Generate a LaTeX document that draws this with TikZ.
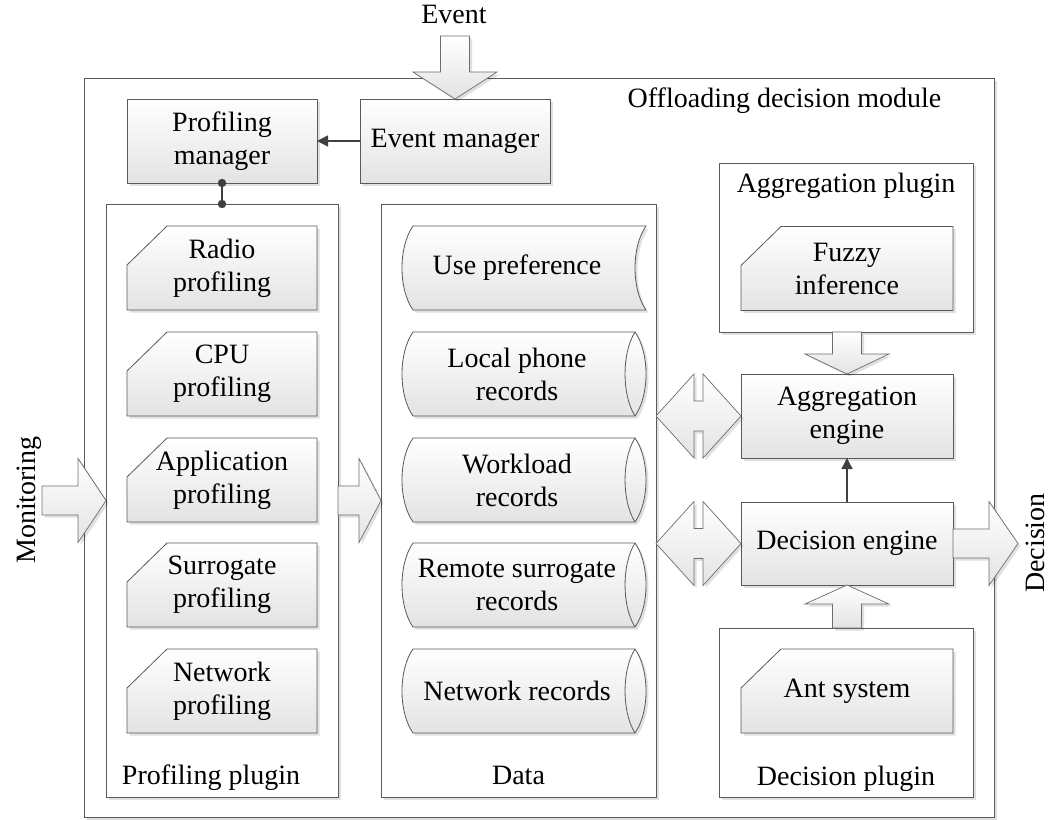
\documentclass[tikz,border=0pt]{standalone}
\usepackage{fontspec}
\setmainfont{Liberation Serif}
\usetikzlibrary{calc,shadows,arrows.meta}
\definecolor{edgegray}{HTML}{5A5A5A}
\definecolor{arrowgray}{HTML}{6E6E6E}
\definecolor{linegray}{HTML}{404040}
\definecolor{shadegray}{HTML}{E3E3E3}
\pgfdeclarelayer{frames}
\pgfdeclarelayer{forms}
\pgfsetlayers{frames,forms,main}

\tikzset{
  txt/.style={font=\fontsize{28}{33}\selectfont, align=center, inner sep=0pt, outer sep=0pt},
  shadowed/.style={drop shadow={shadow xshift=2.5pt, shadow yshift=-2.5pt, fill=black, opacity=0.12}},
  procbox/.style={txt, draw=edgegray, line width=0.8pt, top color=white, bottom color=shadegray,
    shadowed, minimum width=190pt, minimum height=84pt},
  container/.style={draw=edgegray, line width=0.8pt, fill=white, shadowed, inner sep=0pt, outer sep=0pt},
  slot/.style={txt, minimum height=84pt},
  shapefill/.style={draw=edgegray, line width=0.8pt, top color=white, bottom color=shadegray, shadowed},
  blockarrow/.style={draw=arrowgray, line width=0.7pt, top color=white, bottom color=shadegray,
    shadowed, line join=miter},
  conn/.style={draw=linegray, line width=1.4pt, -{Triangle[length=11pt,width=11pt]}},
}

% card with a cut top-left corner, drawn round a text node
\newcommand\cardform[1]{%
  \path[shapefill] ($(#1.north west)+(0,39)$) -- ($(#1.north west)+(40,0)$) -- (#1.north east)
    -- (#1.south east) -- (#1.south west) -- cycle;}
% stored data: convex left side, concave right side
\newcommand\storeform[1]{%
  \path[shapefill] ($(#1.north west)+(11,0)$) -- ($(#1.north east)+(14,0)$)
    .. controls ($(#1.north east)+(-0.7,21)$) and ($(#1.south east)+(-0.7,-21)$) .. ($(#1.south east)+(14,0)$)
    -- ($(#1.south west)+(11,0)$)
    .. controls ($(#1.south west)+(-3.7,-21)$) and ($(#1.north west)+(-3.7,21)$) .. cycle;}
% horizontal drum (direct access storage)
\newcommand\drumform[1]{%
  \path[shapefill] ($(#1.north west)+(11,0)$) -- ($(#1.north east)+(3,0)$)
    .. controls ($(#1.north east)+(17.7,21)$) and ($(#1.south east)+(17.7,-21)$) .. ($(#1.south east)+(3,0)$)
    -- ($(#1.south west)+(11,0)$)
    .. controls ($(#1.south west)+(-3.7,-21)$) and ($(#1.north west)+(-3.7,21)$) .. cycle;
  \draw[edgegray, line width=0.8pt] ($(#1.north east)+(3,0)$)
    .. controls ($(#1.north east)+(-10.3,21)$) and ($(#1.south east)+(-10.3,-21)$) .. ($(#1.south east)+(3,0)$);}
% block arrows: #1 tip, #2 length to tail, #3 head length
\newcommand\rightblock[3]{%
  \path[blockarrow] ($(#1)+(-#2,-14.5)$) -- ($(#1)+(-#3,-14.5)$) -- ($(#1)+(-#3,-42)$) -- (#1)
    -- ($(#1)+(-#3,42)$) -- ($(#1)+(-#3,14.5)$) -- ($(#1)+(-#2,14.5)$) -- cycle;}
\newcommand\downblock[3]{%
  \path[blockarrow] ($(#1)+(-14.5,-#2)$) -- ($(#1)+(14.5,-#2)$) -- ($(#1)+(14.5,-#3)$) -- ($(#1)+(42,-#3)$)
    -- (#1) -- ($(#1)+(-42,-#3)$) -- ($(#1)+(-14.5,-#3)$) -- cycle;}
\newcommand\upblock[3]{%
  \path[blockarrow] ($(#1)+(-14.5,#2)$) -- ($(#1)+(14.5,#2)$) -- ($(#1)+(14.5,#3)$) -- ($(#1)+(42,#3)$)
    -- (#1) -- ($(#1)+(-42,#3)$) -- ($(#1)+(-14.5,#3)$) -- cycle;}
% two-headed arrow between tips #1 (left) and #2 (right)
\newcommand\bothblock[2]{%
  \path[blockarrow] (#1) -- ($(#1)+(38,-42)$) -- ($(#1)+(38,-15)$) -- ($(#2)+(-38,-15)$) -- ($(#2)+(-38,-42)$)
    -- (#2) -- ($(#2)+(-38,42)$) -- ($(#2)+(-38,15)$) -- ($(#1)+(38,15)$) -- ($(#1)+(38,42)$) -- cycle;}

\begin{document}
\begin{tikzpicture}[x=1pt,y=-1pt]
\useasboundingbox (0,0) rectangle (1049,819);

% frames
\begin{pgfonlayer}{frames}
  \node[container, minimum width=910pt, minimum height=739pt] (outer) at (539,447.5) {};
  \node[container, minimum width=232pt, minimum height=593pt] (pp) at (222,500.5) {};
  \node[container, minimum width=275pt, minimum height=593pt] (data) at (518.5,500.5) {};
  \node[container, minimum width=254pt, minimum height=169pt] (ap) at (846,247.5) {};
  \node[container, minimum width=254pt, minimum height=169pt] (dp) at (846,712.5) {};
\end{pgfonlayer}

% labels
\node[txt, anchor=base] (odm) at (784.5,107) {Offloading decision module};
\node[txt, anchor=base] (apl) at (846,192) {Aggregation plugin};
\node[txt, anchor=base] (ppl) at (211,784) {Profiling plugin};
\node[txt, anchor=base] (dl) at (518.5,784) {Data};
\node[txt, anchor=base] (dpl) at (846,785) {Decision plugin};
\node[txt, anchor=base] (evl) at (454,23.5) {Event};
\node[txt, anchor=base, rotate=90] (mon) at (35,500) {Monitoring};
\node[txt, anchor=base, rotate=90] (dec) at (1044,543) {Decision};

% process boxes
\node[procbox] (pm) at (222,141) {Profiling\\manager};
\node[procbox] (em) at (455,141) {Event manager};
\node[procbox, minimum width=212pt] (ae) at (847,416) {Aggregation\\engine};
\node[procbox, minimum width=212pt, minimum height=83pt] (de) at (847,543.5) {Decision engine};

% profiling cards
\node[slot, minimum width=190pt] (radio) at (222,268) {Radio\\profiling};
\node[slot, minimum width=190pt] (cpu) at (222,374) {CPU\\profiling};
\node[slot, minimum width=190pt] (app) at (222,480) {Application\\profiling};
\node[slot, minimum width=190pt] (sur) at (222,585) {Surrogate\\profiling};
\node[slot, minimum width=190pt] (net) at (222,691) {Network\\profiling};
\node[slot, minimum width=212pt] (fuzzy) at (847,268.5) {Fuzzy\\inference};
\node[slot, minimum width=212pt] (ant) at (847,691) {Ant system};

% data stores
\node[slot, minimum width=230pt] (upref) at (517,268) {Use preference};
\node[slot, minimum width=230pt] (local) at (517,374) {Local phone\\records};
\node[slot, minimum width=230pt] (work) at (517,480) {Workload\\records};
\node[slot, minimum width=230pt] (remote) at (517,585) {Remote surrogate\\records};
\node[slot, minimum width=230pt] (netrec) at (517,691) {Network records};

\begin{pgfonlayer}{forms}
  \foreach \c in {radio,cpu,app,sur,net,fuzzy,ant} {\cardform{\c}}
  \storeform{upref}
  \foreach \c in {local,work,remote,netrec} {\drumform{\c}}
\end{pgfonlayer}

% connectors
\draw[conn] (em.west) -- (pm.east);
\draw[conn] (de.north) -- (ae.south);
\draw[linegray, line width=1.4pt] (pm.south) -- (pp.north);
\fill[linegray] (pm.south) circle[radius=4.2pt] (pp.north) circle[radius=4.2pt];

% block arrows
\downblock{em.north}{63}{27}
\rightblock{pp.west}{64}{28}
\rightblock{data.west}{43}{22}
\downblock{ae.north}{42}{20}
\upblock{de.south}{43}{19}
\coordinate (dtip) at ($(de.east)+(65,0)$);
\rightblock{dtip}{65}{29}
\coordinate (dbla) at (data.east |- ae.west);
\coordinate (dblb) at (data.east |- de.west);
\bothblock{dbla}{ae.west}
\bothblock{dblb}{de.west}
\end{tikzpicture}
\end{document}
